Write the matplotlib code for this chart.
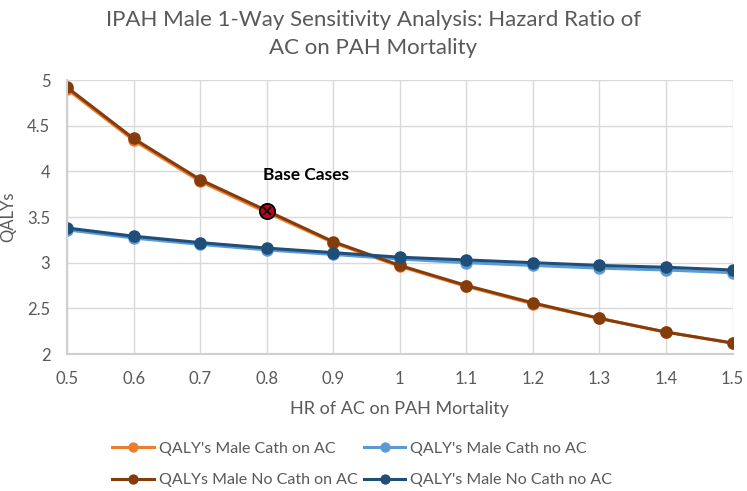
import matplotlib.pyplot as plt

plt.rcParams['font.family'] = ['Lato', 'DejaVu Sans']

hr = [0.5, 0.6, 0.7, 0.8, 0.9, 1.0, 1.1, 1.2, 1.3, 1.4, 1.5]

# QALYs por serie
cath_on_ac = [4.90, 4.34, 3.89, 3.55, 3.22, 2.96, 2.74, 2.55, 2.39, 2.24, 2.12]
cath_no_ac = [3.36, 3.27, 3.20, 3.14, 3.09, 3.04, 3.00, 2.97, 2.94, 2.92, 2.89]
nocath_on_ac = [4.92, 4.36, 3.91, 3.57, 3.23, 2.97, 2.75, 2.56, 2.39, 2.24, 2.12]
nocath_no_ac = [3.38, 3.29, 3.22, 3.16, 3.11, 3.06, 3.03, 3.00, 2.97, 2.95, 2.92]

base_x = 0.8
base_y = 3.57

texto = '#595959'

fig = plt.figure(figsize=(7.47, 4.91), dpi=100)
ax = fig.add_axes([0.0897, 0.279, 0.891, 0.558])

l1, = ax.plot(hr, cath_on_ac, label="QALY's Male Cath on AC", color='#ED7D31', marker='o', ms=8, lw=2.2)
l2, = ax.plot(hr, cath_no_ac, label="QALY's Male Cath no AC", color='#5B9BD5', marker='o', ms=8, lw=2.2)
l3, = ax.plot(hr, nocath_on_ac, label="QALYs Male No Cath on AC", color='#843C0C', marker='o', ms=8, lw=2.2)
l4, = ax.plot(hr, nocath_no_ac, label="QALY's Male No Cath no AC", color='#1F4E79', marker='o', ms=8, lw=2.2)

ax.plot([base_x], [base_y], marker='o', ms=11, color='#C00020', mec='black', mew=1.3, zorder=5)
ax.plot([base_x], [base_y], marker='x', ms=6, color='black', mew=1.3, zorder=6)
ax.text(0.795, 3.96, 'Base Cases', fontsize=12.5, fontweight='bold', color='black', va='center', ha='left')

ax.set_xlim(0.5, 1.5)
ax.set_ylim(2, 5)
ax.set_xticks(hr)
ax.set_xticklabels(['0.5', '0.6', '0.7', '0.8', '0.9', '1', '1.1', '1.2', '1.3', '1.4', '1.5'])
ax.set_yticks([2, 2.5, 3, 3.5, 4, 4.5, 5])
ax.set_yticklabels(['2', '2.5', '3', '3.5', '4', '4.5', '5'])
ax.grid(True, color='#D9D9D9', lw=1)
ax.set_axisbelow(True)
for s in ['top', 'right']:
    ax.spines[s].set_visible(False)
for s in ['left', 'bottom']:
    ax.spines[s].set_color('#D0CECE')
    ax.spines[s].set_linewidth(1.5)
ax.tick_params(length=0, labelsize=12, colors=texto, pad=12)

ax.set_xlabel('HR of AC on PAH Mortality', fontsize=13, color=texto, labelpad=10)
ax.set_ylabel('QALYs', fontsize=12, color=texto, labelpad=8)
fig.suptitle('IPAH Male 1-Way Sensitivity Analysis: Hazard Ratio of\nAC on PAH Mortality',
             fontsize=16, color=texto, y=0.98, linespacing=1.5)

# orden por filas como en la leyenda original
fig.legend([l1, l3, l2, l4], [l.get_label() for l in [l1, l3, l2, l4]],
           loc='lower center', bbox_to_anchor=(0.485, -0.022), ncol=2, frameon=False,
           fontsize=11.5, labelcolor=texto, handlelength=2.6, columnspacing=0.4,
           handletextpad=0.3, markerscale=0.8, labelspacing=1.1)

fig.savefig('out.png')
